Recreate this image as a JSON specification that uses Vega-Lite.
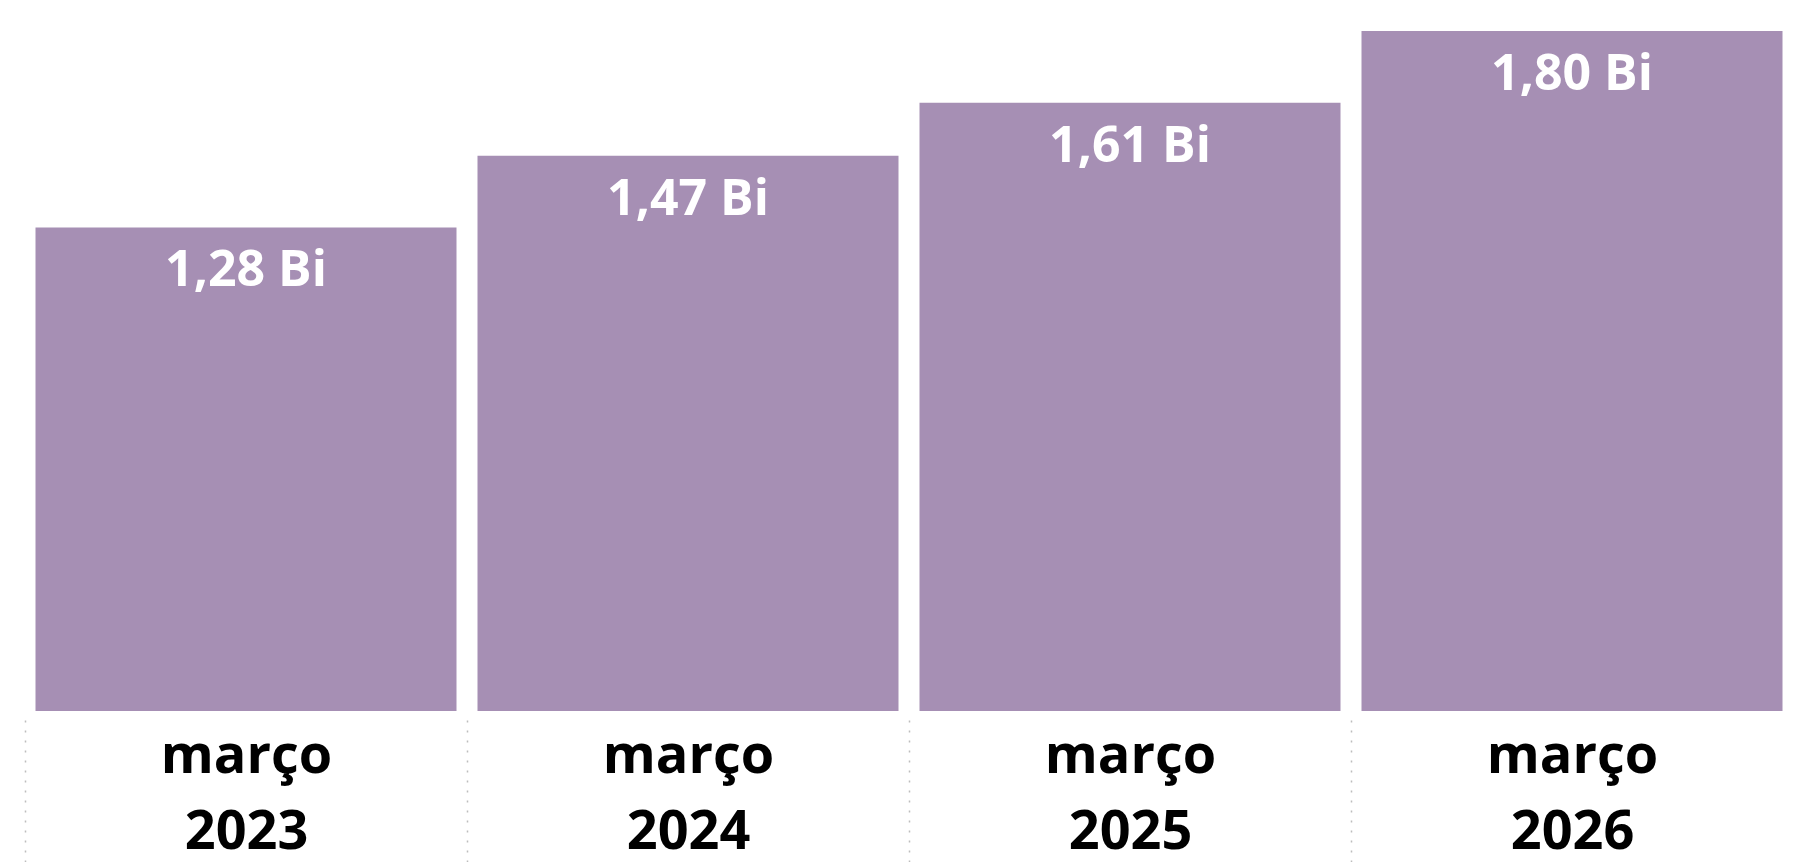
{
  "$schema": "https://vega.github.io/schema/vega-lite/v6.json",
  "autosize": "none",
  "width": 1768,
  "height": 711,
  "padding": {"left": 25, "top": 0, "right": 3, "bottom": 151},
  "background": "white",
  "config": {"view": {"stroke": null}, "font": "Open Sans"},
  "data": {
    "values": [
      {"periodo": "março 2023", "valor": 1.28, "rotulo": "1,28 Bi"},
      {"periodo": "março 2024", "valor": 1.47, "rotulo": "1,47 Bi"},
      {"periodo": "março 2025", "valor": 1.61, "rotulo": "1,61 Bi"},
      {"periodo": "março 2026", "valor": 1.80, "rotulo": "1,80 Bi"}
    ]
  },
  "encoding": {
    "x": {
      "field": "periodo",
      "type": "nominal",
      "sort": null,
      "scale": {"paddingInner": 0.0475, "paddingOuter": 0.02375},
      "axis": {
        "title": null,
        "domain": false,
        "labelAngle": 0,
        "labelExpr": "split(datum.label, ' ')",
        "labelFont": "Open Sans",
        "labelFontSize": 54,
        "labelFontWeight": "bold",
        "labelColor": "#000000",
        "labelLineHeight": 76,
        "labelBaseline": "alphabetic",
        "labelPadding": -90,
        "labelOffset": 221,
        "offset": 9,
        "ticks": true,
        "tickOffset": -221,
        "tickSize": 142,
        "tickDash": [2, 8],
        "tickColor": "#BDBDBD",
        "tickWidth": 1.5,
        "grid": false
      }
    },
    "y": {
      "field": "valor",
      "type": "quantitative",
      "scale": {"domain": [0, 1.882], "nice": false, "zero": true},
      "axis": null
    }
  },
  "layer": [
    {"mark": {"type": "bar", "color": "#A68FB4"}},
    {
      "mark": {
        "type": "text",
        "color": "#FFFFFF",
        "font": "Open Sans",
        "fontSize": 50,
        "fontWeight": "bold",
        "baseline": "alphabetic",
        "align": "center",
        "dy": 59
      },
      "encoding": {"text": {"field": "rotulo", "type": "nominal"}}
    }
  ]
}
